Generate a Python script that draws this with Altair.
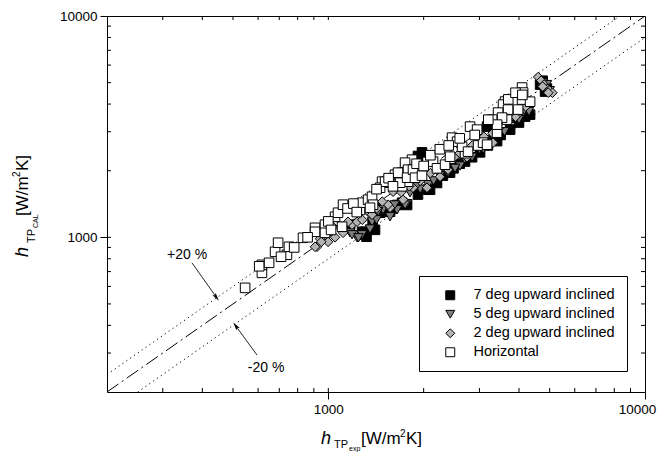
import altair as alt
import pandas as pd

# ---------------- data ----------------
series_names = ["7 deg upward inclined", "5 deg upward inclined",
                "2 deg upward inclined", "Horizontal"]
shapes = ["square", "triangle-down", "diamond", "square"]
fills = ["#000000", "#7f7f7f", "#b4b4b4", "#ffffff"]
outlines = ["#000000", "#000000", "#000000", "#000000"]

h7_exp = [1171, 1278, 1306, 1306, 1320, 1404, 1457, 1489, 1532, 1566, 1710, 1773,
          1851, 1919, 1976, 2095, 2204, 2423, 2702, 3014, 3172, 3313, 4182, 4336,
          4664, 4835, 1919, 2065, 2485, 2844, 3190, 3411, 3750, 3880, 4750, 4900,
          1380, 1600, 1650, 2300, 2600, 3500, 4000]
h7_cal = [1140, 1059, 1059, 1027, 1006, 1081, 1291, 1360, 1332, 1305, 1433, 1400,
          2230, 2330, 2420, 1640, 1760, 1960, 2200, 2420, 3163, 2750, 3510, 3584,
          4899, 4555, 1560, 1641, 2050, 2300, 2600, 2720, 3066, 3474, 5100, 4700,
          1150, 1350, 1400, 1900, 2150, 2900, 3300]

h5_exp = [1171, 1232, 1278, 1374, 1489, 1648, 1773, 1566, 1188, 1245, 1354, 1436,
          1747, 2065, 2388, 2606, 2844, 3081, 3242, 2513, 1811, 3830, 4121, 4900,
          4750, 5000, 1950, 2250, 3500, 4000, 1420, 1620, 1900, 2150, 2700, 3000,
          3600, 4300]
h5_cal = [1048, 995, 1027, 1175, 1332, 1332, 1420, 1238, 1027, 995, 1090, 1305,
          1400, 1729, 1960, 2100, 2300, 2500, 2650, 2050, 1590, 3474, 3660, 4900,
          5000, 4600, 1650, 1900, 2950, 3400, 1200, 1400, 1700, 1800, 2250, 2500,
          3000, 3700]

h2_exp = [921, 998, 942, 1035, 1188, 1232, 1335, 1566, 1722, 1851, 1747, 1601,
          908, 950, 1113, 1154, 1374, 1544, 1624, 1601, 2049, 2253, 2742, 3014,
          3313, 2388, 3100, 3300, 3450, 3700, 4000, 4600, 4700, 4800, 4900, 5000,
          5100, 4750, 4950, 1050, 1100, 1280, 1420, 1480, 1700, 1800, 1950, 2100,
          2500, 2600, 2850, 3900, 4200]
h2_cal = [906, 954, 985, 1116, 1140, 1175, 1305, 1360, 1478, 1675, 1918, 1879,
          906, 954, 1048, 1175, 1265, 1404, 1641, 1607, 1675, 1879, 2300, 2600,
          2677, 2021, 2850, 2950, 3100, 3350, 3650, 5300, 5100, 4900, 4700, 4600,
          4500, 4800, 4500, 1000, 1120, 1200, 1350, 1450, 1600, 1700, 1800, 1950,
          2300, 2400, 2600, 3500, 3900]

hh_exp = [546, 617, 617, 605, 650, 679, 694, 740, 751, 709, 832, 908, 908, 976, 976,
          1050, 1073, 1113, 1105, 1259, 1278, 1335, 1374, 1478, 1457, 1589, 1624,
          1710, 1773, 1838, 1906, 1384, 1354, 1566, 1660, 1747, 1710, 1785, 1785,
          1511, 1685, 1773, 1851, 1878, 1976, 2141, 2204, 2337, 2423, 2459, 2550,
          2702, 2645, 2762, 2803, 2950, 2971, 3081, 3172, 3411, 3411, 3615, 3563,
          3695, 3974, 4091, 4091, 4121, 4336, 3436, 3668, 3537, 3290, 3411,
          1150, 1200, 1230, 1420, 1550, 1600, 1900, 2000, 2100, 2250, 2400, 2600,
          2900, 3200, 3700, 3900, 4100, 1000, 1020, 860, 780]
hh_cal = [591, 691, 751, 740, 767, 860, 945, 834, 906, 817, 995, 1104, 1059, 1140,
          1048, 1238, 1291, 1404, 1116, 1330, 1433, 1478, 1525, 1784, 1675, 1765,
          1918, 1959, 2085, 2243, 2085, 1404, 1360, 1765, 1959, 2174, 1700, 1784,
          2021, 1784, 1765, 1859, 2021, 1859, 1900, 2196, 2050, 2129, 2314, 2820,
          2705, 2400, 2568, 2438, 3163, 3066, 2600, 2677, 2622, 3332, 2971, 4104,
          3977, 3776, 3776, 4192, 4750, 4508, 4100, 3660, 3403, 3474, 3403, 3229,
          1350, 1420, 1300, 1650, 1850, 1700, 2150, 2100, 2350, 2500, 2600, 2800,
          2900, 3400, 4200, 4500, 4400, 1180, 1080, 1000, 900]

# reference lines (y = x and +/-20 %)
ref_x = [200, 10000]
ref_y = [200, 10000]
plus_x = [200, 8333]
plus_y = [240, 10000]
minus_x = [250, 10000]
minus_y = [200, 8000]

# annotation texts and arrows
note_labels = ["+20 %", "-20 %"]
note_x = [358, 636]
note_y = [834, 257]
arrow_plus_x = [371, 443]
arrow_plus_y = [767, 536]
arrow_minus_x = [595, 510]
arrow_minus_y = [294, 398]

minor_ticks = [300, 400, 500, 600, 700, 800, 900, 1000,
               2000, 3000, 4000, 5000, 6000, 7000, 8000, 9000]
major_ticks = [1000, 10000]

# ---------------- build tables ----------------
rows = []
for name, xs, ys in [(series_names[0], h7_exp, h7_cal),
                     (series_names[1], h5_exp, h5_cal),
                     (series_names[2], h2_exp, h2_cal),
                     (series_names[3], hh_exp, hh_cal)]:
    for a, b in zip(xs, ys):
        rows.append({"series": name, "exp": a, "cal": b})
df = pd.DataFrame(rows)

W, H = 538, 376
FONT = "Liberation Sans"
xscale = alt.Scale(type="log", domain=[200, 10000], nice=False)
yscale = alt.Scale(type="log", domain=[200, 10000], nice=False)
xaxis = alt.Axis(values=major_ticks, format="d", title="", grid=False,
                 labelFlush=False, labelOverlap=False,
                 labelOffset={"condition": {"test": "datum.value >= 10000", "value": -8},
                              "value": 0})
yaxis = alt.Axis(values=major_ticks, format="d", title="", grid=False,
                 labelFlush=False, labelOverlap=False)


def X(field):
    return alt.X(field, scale=xscale, axis=xaxis)


def Y(field):
    return alt.Y(field, scale=yscale, axis=yaxis)


def line_layer(xs, ys, dash):
    d = pd.DataFrame({"x": xs, "y": ys})
    return alt.Chart(d).mark_line(color="black", strokeWidth=1, strokeDash=dash,
                                  clip=True).encode(x=X("x:Q"), y=Y("y:Q"))


ref_line = line_layer(ref_x, ref_y, [14, 4, 2, 4])
plus_line = line_layer(plus_x, plus_y, [1.2, 3.5])
minus_line = line_layer(minus_x, minus_y, [1.2, 3.5])

legend = alt.Legend(
    orient="none", legendX=312, legendY=260,
    symbolStrokeWidth=1, symbolOpacity=1,
)

points = alt.Chart(df).mark_point(filled=False, strokeWidth=1,
                                  size=92, opacity=1).encode(
    x=X("exp:Q"),
    y=Y("cal:Q"),
    fill=alt.Fill("series:N", scale=alt.Scale(domain=series_names, range=fills),
                  sort=series_names, title=None, legend=legend),
    shape=alt.Shape("series:N", scale=alt.Scale(domain=series_names, range=shapes),
                    sort=series_names, title=None, legend=legend),
    stroke=alt.Stroke("series:N", scale=alt.Scale(domain=series_names, range=outlines),
                      sort=series_names, title=None, legend=legend),
    order=alt.Order("idx:Q"),
).transform_window(idx="row_number()")

notes = alt.Chart(pd.DataFrame({"t": note_labels, "x": note_x, "y": note_y})).mark_text(
    font=FONT, fontSize=14, color="black").encode(x=X("x:Q"), y=Y("y:Q"), text="t:N")

arrow_plus = line_layer(arrow_plus_x, arrow_plus_y, [1, 0])
arrow_minus = line_layer(arrow_minus_x, arrow_minus_y, [1, 0])
head_path = "M0,-1L0.5,1L0,0.55L-0.5,1Z"
head_plus = alt.Chart(pd.DataFrame({"x": arrow_plus_x[1:], "y": arrow_plus_y[1:]})).mark_point(
    shape=head_path, filled=True, color="black", size=70, angle=144, opacity=1).encode(
    x=X("x:Q"), y=Y("y:Q"))
head_minus = alt.Chart(pd.DataFrame({"x": arrow_minus_x[1:], "y": arrow_minus_y[1:]})).mark_point(
    shape=head_path, filled=True, color="black", size=70, angle=324, opacity=1).encode(
    x=X("x:Q"), y=Y("y:Q"))

tdf = pd.DataFrame({"v": minor_ticks})
tick_len = 4
t_bottom = alt.Chart(tdf).mark_rule(color="black", strokeWidth=1).encode(
    x=X("v:Q"), y=alt.value(H), y2=alt.value(H - tick_len))
t_top = alt.Chart(tdf).mark_rule(color="black", strokeWidth=1).encode(
    x=X("v:Q"), y=alt.value(0), y2=alt.value(tick_len))
t_left = alt.Chart(tdf).mark_rule(color="black", strokeWidth=1).encode(
    y=Y("v:Q"), x=alt.value(0), x2=alt.value(tick_len))
t_right = alt.Chart(tdf).mark_rule(color="black", strokeWidth=1).encode(
    y=Y("v:Q"), x=alt.value(W), x2=alt.value(W - tick_len))

# axis titles built from pieces (sub/superscripts)
one = pd.DataFrame({"a": [0]})


def piece(text, x, y, size, italic=False, angle=0):
    kw = dict(text=text, font=FONT, fontSize=size, color="black", align="left",
              baseline="alphabetic")
    if italic:
        kw["fontStyle"] = "italic"
    if angle:
        kw["angle"] = angle
    return alt.Chart(one).mark_text(**kw).encode(x=alt.value(x), y=alt.value(y))


xt = [
    piece("h", 214, 428, 18, italic=True),
    piece("TP", 227, 432, 11),
    piece("exp", 242, 434.5, 7),
    piece("[W/m", 254, 428, 17),
    piece("2", 293, 421, 10),
    piece("K]", 299, 428, 17),
]
yt = [
    piece("h", -79, 241, 18, italic=True, angle=270),
    piece("TP", -72, 227, 11, angle=270),
    piece("CAL", -69.5, 212, 7, angle=270),
    piece("[W/m", -79, 200, 17, angle=270),
    piece("2", -87, 161, 10, angle=270),
    piece("K]", -79, 155, 17, angle=270),
]

chart = alt.layer(
    t_bottom, t_top, t_left, t_right,
    plus_line, minus_line, ref_line,
    points, notes, arrow_plus, arrow_minus, head_plus, head_minus,
    *xt, *yt
).properties(
    width=W, height=H,
    padding={"left": 99, "top": 8, "right": 12, "bottom": 60},
    autosize=alt.AutoSizeParams(type="none"),
).configure_view(
    stroke="black", strokeWidth=1
).configure_axis(
    domain=False, tickColor="black", tickSize=7, labelColor="black",
    labelFont=FONT, labelFontSize=13.5, labelPadding=3, grid=False
).configure_legend(
    strokeColor="black", fillColor="white", padding=12, cornerRadius=0,
    symbolStrokeWidth=1, symbolSize=80,
    symbolOffset=12, labelOffset=16, labelFont=FONT, labelFontSize=14.5,
    labelColor="black", rowPadding=4, titlePadding=0, symbolOpacity=1
)

chart.save("out.html", embed_options={"renderer": "svg", "actions": False})
